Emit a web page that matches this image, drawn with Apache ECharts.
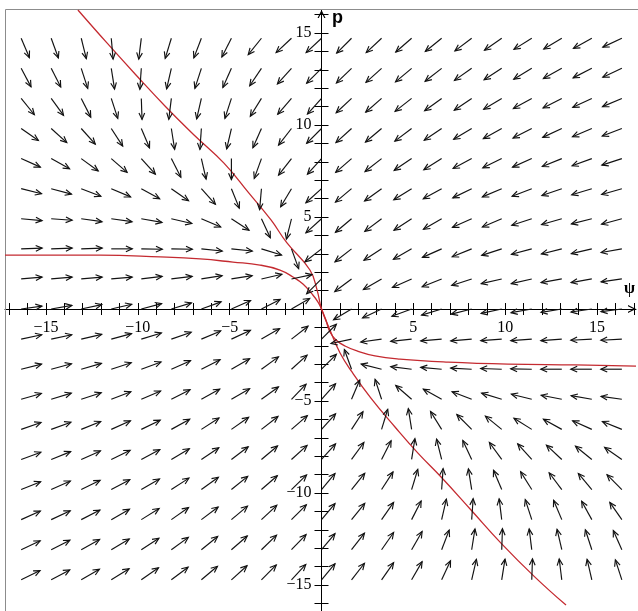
<!DOCTYPE html>
<html>
<head>
<meta charset="utf-8">
<title>direction field</title>
<script src="https://cdn.jsdelivr.net/npm/echarts@6/dist/echarts.min.js"></script>
<style>
  html, body { margin: 0; padding: 0; background: #fff; }
  #chart { width: 638px; height: 611px; }
</style>
</head>
<body>
<div id="chart"></div>
<script>
  // grid points of the direction field (arrow tails)
  const psiGrid = [-16.35, -14.715, -13.08, -11.445, -9.81, -8.175, -6.54, -4.905, -3.27, -1.635, 0,
    1.635, 3.27, 4.905, 6.54, 8.175, 9.81, 11.445, 13.08, 14.715, 16.35];
  const pGrid = [14.715, 13.08, 11.445, 9.81, 8.175, 6.54, 4.905, 3.27, 1.635, 0,
    -1.635, -3.27, -4.905, -6.54, -8.175, -9.81, -11.445, -13.08, -14.715];

  // arrow direction in degrees (counter-clockwise from +psi), one row per pGrid value
  const fieldAngles = [
    [-67, -70, -76, -85, -97, -107, -111, -117, -129, -137, -137, -135, -137, -139, -141, -143, -145, -148, -149, -151, -155],
    [-62, -63, -72, -81, -94, -103, -108, -114, -124, -132, -135, -136, -138, -140, -142, -145, -147, -149, -151, -153, -155],
    [-51, -54, -63, -72, -88, -97, -103, -108, -122, -131, -132, -137, -139, -142, -144, -146, -149, -151, -153, -155, -157],
    [-35, -42, -48, -57, -67, -81, -94, -103, -114, -128, -135, -138, -140, -143, -146, -149, -151, -153, -155, -157, -159],
    [-24, -29, -36, -41, -48, -63, -77, -90, -110, -128, -132, -139, -142, -146, -148, -152, -154, -156, -158, -160, -162],
    [-14, -15, -21, -23, -29, -35, -48, -68, -95, -121, -138, -140, -144, -148, -151, -154, -157, -159, -161, -163, -164],
    [-5, -4, -8, -8, -10, -13, -23, -33, -65, -104, -138, -140, -143, -147, -150, -156, -157, -162, -164, -166, -165],
    [2, 2, 2, 0, -1, -1, -6, -6, -17, -70, -142, -142, -147, -150, -156, -158, -162, -165, -166, -167, -170],
    [5, 5, 5, 5, 7, 7, 9, 9, 13, 12, -135, -143, -150, -156, -158, -162, -167, -167, -170, -170, -172],
    [8, 10, 12, 13, 15, 17, 20, 24, 27, 30, null, -149, -155, -160, -163, -166, -168, -170, -171, -172, -173],
    [12, 12, 13, 15, 17, 19, 23, 25, 30, 38, 45, -168, -172, -174, -175, -175, -176, -176, -176, -177, -177],
    [14, 15, 16, 18, 20, 24, 27, 30, 36, 42, 45, 110, 166, 173, 175, 177, 178, 179, 180, 180, 180],
    [16, 17, 18, 21, 23, 27, 29, 30, 36, 46, 48, 67, 108, 139, 151, 159, 163, 166, 169, 170, 172],
    [19, 20, 22, 24, 26, 29, 33, 35, 38, 41, 48, 57, 73, 99, 122, 135, 141, 148, 151, 156, 158],
    [20, 22, 24, 26, 28, 31, 34, 37, 40, 42, 48, 54, 63, 81, 104, 115, 126, 132, 137, 141, 145],
    [22, 24, 26, 28, 30, 33, 36, 39, 41, 44, 50, 51, 57, 73, 86, 99, 113, 122, 127, 130, 135],
    [24, 25, 27, 30, 32, 35, 37, 40, 43, 45, 50, 51, 55, 63, 77, 86, 97, 108, 113, 119, 125],
    [25, 27, 29, 31, 33, 36, 39, 41, 44, 46, 50, 52, 55, 60, 69, 81, 88, 97, 103, 108, 114],
    [26, 28, 30, 32, 35, 37, 40, 42, 45, 47, 50, 52, 55, 60, 65, 77, 81, 88, 97, 103, 108]
  ];

  // the two red solution curves, [psi, p]
  const curveA = [[-13.26, 16.25], [-11.68, 14.46], [-10.10, 12.72], [-8.47, 10.98], [-6.94, 9.46],
    [-5.31, 7.93], [-3.95, 6.30], [-2.75, 4.84], [-1.88, 3.59], [-0.63, 2.12], [-0.24, 1.03], [0, 0],
    [0.46, -1.14], [1.01, -2.39], [1.66, -3.42], [2.69, -4.84], [4.00, -6.41], [5.25, -7.83],
    [6.51, -9.13], [8.14, -10.92], [9.77, -12.72], [11.62, -14.57], [13.31, -16.09]];
  const curveB = [[-17.23, 2.93], [-14.24, 2.93], [-12.06, 2.93], [-8.79, 2.83], [-6.61, 2.72],
    [-4.82, 2.55], [-3.35, 2.39], [-2.26, 2.12], [-1.55, 1.74], [-1.01, 1.36], [-0.52, 0.82],
    [-0.19, 0.38], [0, 0], [0.24, -0.60], [0.46, -1.25], [0.79, -1.68], [1.28, -2.01], [1.93, -2.28],
    [2.91, -2.55], [4.27, -2.72], [6.89, -2.88], [10.15, -2.99], [13.80, -3.04], [17.12, -3.10]];

  // ticks and labels
  const xTicks = [-17, -16, -15, -14, -13, -12, -11, -10, -9, -8, -7, -6, -5, -4, -3, -2, -1, 0,
    1, 2, 3, 4, 5, 6, 7, 8, 9, 10, 11, 12, 13, 14, 15, 16, 17];
  const yTicks = [-16, -15, -14, -13, -12, -11, -10, -9, -8, -7, -6, -5, -4, -3, -2, -1, 0,
    1, 2, 3, 4, 5, 6, 7, 8, 9, 10, 11, 12, 13, 14, 15, 16];
  const xLabels = [-15, -10, -5, 5, 10, 15];
  const yLabels = [-15, -10, -5, 5, 10, 15];

  const fieldData = [];
  pGrid.forEach(function (p, j) {
    psiGrid.forEach(function (psi, k) {
      const a = fieldAngles[j][k];
      if (a !== null) fieldData.push([psi, p, a]);
    });
  });

  const fmt = function (v) { return v < 0 ? '\u2212' + Math.abs(v) : String(v); };
  const chevron = 'path://M0,10 L5,0 L10,10 L8.4,10 L5,3.2 L1.6,10 Z';

  function renderArrow(params, api) {
    const tail = api.coord([api.value(0), api.value(1)]);
    const a = api.value(2) * Math.PI / 180;
    const len = 21, head = 7, wing = 0.42;
    const hx = tail[0] + len * Math.cos(a), hy = tail[1] - len * Math.sin(a);
    const b1 = a + Math.PI - wing, b2 = a + Math.PI + wing;
    return {
      type: 'group',
      children: [
        {type: 'line', shape: {x1: tail[0], y1: tail[1], x2: hx, y2: hy},
          style: {stroke: '#111', lineWidth: 1.15}},
        {type: 'polyline', shape: {points: [
          [hx + head * Math.cos(b1), hy - head * Math.sin(b1)], [hx, hy],
          [hx + head * Math.cos(b2), hy - head * Math.sin(b2)]]},
          style: {stroke: '#111', fill: null, lineWidth: 1.15}}
      ]
    };
  }

  // tick labels drawn as text at axis positions taken from the scale
  function renderTickLabel(params, api) {
    const horiz = api.value(2) === 0;
    const pos = api.coord([api.value(0), api.value(1)]);
    const v = horiz ? api.value(0) : api.value(1);
    return {
      type: 'text',
      x: horiz ? pos[0] : pos[0] - 10,
      y: horiz ? pos[1] + 11 : pos[1],
      style: {
        text: fmt(v), fill: '#000', font: '16px "Liberation Serif"',
        align: horiz ? 'center' : 'right', verticalAlign: horiz ? 'top' : 'middle'
      }
    };
  }
  const labelData = xLabels.map(function (v) { return [v, 0, 0]; })
    .concat(yLabels.map(function (v) { return [0, v, 1]; }));

  const myChart = echarts.init(document.getElementById('chart'), null, {renderer: 'canvas'});
  const option = {
    backgroundColor: '#fff',
    animation: false,
    grid: {left: 5, right: 2, top: 10, bottom: 0, containLabel: false},
    xAxis: [
      {
        type: 'value', min: -17.23, max: 17.12, position: 'bottom',
        axisLine: {onZero: true, onZeroAxisIndex: 0, symbol: ['none', chevron], symbolSize: [8, 8],
          symbolOffset: [0, -4], lineStyle: {color: '#000', width: 1}},
        axisTick: {show: true, inside: false, length: 6, customValues: xTicks, lineStyle: {color: '#000'}},
        axisLabel: {show: false},
        splitLine: {show: false}
      },
      {
        type: 'value', min: -17.23, max: 17.12, position: 'top',
        axisLine: {onZero: true, onZeroAxisIndex: 0, lineStyle: {color: '#000', opacity: 0}},
        axisTick: {show: true, inside: false, length: 6, customValues: xTicks, lineStyle: {color: '#000'}},
        axisLabel: {show: false},
        splitLine: {show: false}
      }
    ],
    yAxis: [
      {
        type: 'value', min: -16.41, max: 16.25, position: 'left',
        axisLine: {onZero: true, onZeroAxisIndex: 0, symbol: ['none', chevron], symbolSize: [8, 8],
          symbolOffset: [0, -4], lineStyle: {color: '#000', width: 1}},
        axisTick: {show: true, inside: false, length: 7, customValues: yTicks, lineStyle: {color: '#000'}},
        axisLabel: {show: false},
        splitLine: {show: false}
      },
      {
        type: 'value', min: -16.41, max: 16.25, position: 'right',
        axisLine: {onZero: true, onZeroAxisIndex: 0, lineStyle: {color: '#000', opacity: 0}},
        axisTick: {show: true, inside: false, length: 7, customValues: yTicks, lineStyle: {color: '#000'}},
        axisLabel: {show: false},
        splitLine: {show: false}
      }
    ],
    graphic: [
      {type: 'polyline', shape: {points: [[5.5, 611], [5.5, 9.5], [638, 9.5]]},
        style: {stroke: '#8c8c8c', lineWidth: 1, fill: null}, z: 1},
      {type: 'text', left: 332, top: 9,
        style: {text: 'p', font: 'bold 18px "Liberation Sans"', fill: '#000'}},
      {type: 'text', left: 624, top: 281,
        style: {text: '\u03c8', font: 'bold 16px "Liberation Serif"', fill: '#000'}}
    ],
    series: [
      {
        name: 'curveA', type: 'line', data: curveA, xAxisIndex: 0, yAxisIndex: 0,
        showSymbol: false, smooth: 0.45, z: 2,
        lineStyle: {color: '#c42a30', width: 1.3}
      },
      {
        name: 'curveB', type: 'line', data: curveB, xAxisIndex: 0, yAxisIndex: 0,
        showSymbol: false, smooth: 0.45, z: 2,
        lineStyle: {color: '#c42a30', width: 1.3}
      },
      {
        name: 'field', type: 'custom', data: fieldData, xAxisIndex: 0, yAxisIndex: 0,
        encode: {x: 0, y: 1}, renderItem: renderArrow, clip: false, z: 3
      },
      {
        name: 'tickLabels', type: 'custom', data: labelData, xAxisIndex: 0, yAxisIndex: 0,
        encode: {x: 0, y: 1}, renderItem: renderTickLabel, clip: false, silent: true, z: 4
      }
    ]
  };
  myChart.setOption(option);
</script>
</body>
</html>
